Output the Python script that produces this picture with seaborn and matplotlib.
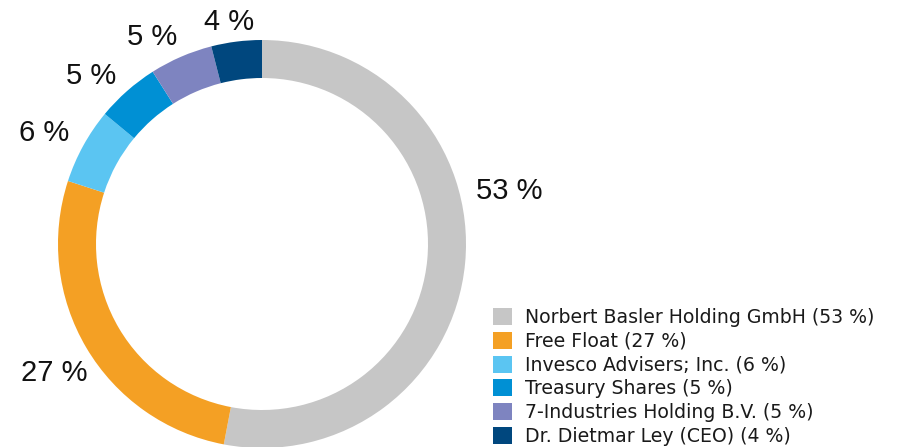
import matplotlib
matplotlib.use("Agg")
import matplotlib.pyplot as plt
import seaborn as sns
from matplotlib.patches import Patch

# shareholder structure
holders = ['Norbert Basler Holding GmbH', 'Free Float', 'Invesco Advisers; Inc.',
           'Treasury Shares', '7-Industries Holding B.V.', 'Dr. Dietmar Ley (CEO)']
shares = [53, 27, 6, 5, 5, 4]
colors = ['#C6C6C6', '#F4A024', '#5BC5F2', '#0090D4', '#7E84C0', '#00477E']

# where the percentage labels sit (in units of the ring radius)
label_xy = [(1.213, 0.262), (-1.017, -0.63), (-1.069, 0.544),
            (-0.836, 0.824), (-0.539, 1.015), (-0.162, 1.088)]

sns.set_style('white')
plt.rcParams['font.family'] = ['Liberation Sans', 'DejaVu Sans']

fig = plt.figure(figsize=(8.97, 4.47), dpi=100)
# square axes so the ring sits where it does in the original
ax = fig.add_axes([(262 - 204) / 897, (447 - 244 - 204) / 447, 408 / 897, 408 / 447])

wedges, texts, pct = ax.pie(shares, colors=colors, startangle=90, counterclock=False,
                            radius=1, wedgeprops=dict(width=38 / 204, linewidth=0),
                            autopct=lambda p: f'{p:.0f} %', pctdistance=1.15,
                            textprops=dict(fontsize=21, color='#111111'))
for t, xy in zip(pct, label_xy):
    t.set_position(xy)
ax.set_xlim(-1, 1)
ax.set_ylim(-1, 1)
ax.axis('off')

handles = [Patch(facecolor=c, edgecolor='none') for c in colors]
labels = [f'{h} ({s} %)' for h, s in zip(holders, shares)]
fig.legend(handles, labels, loc='upper left', bbox_to_anchor=(493 / 897, 1 - 308 / 447),
           frameon=False, borderpad=0, borderaxespad=0, handlelength=1.02, handleheight=1.02,
           handletextpad=0.68, labelspacing=0.25,
           prop=dict(family=['DejaVu Sans'], size=13.6), labelcolor='#1a1a1a')

fig.savefig('out.png', dpi=100)
